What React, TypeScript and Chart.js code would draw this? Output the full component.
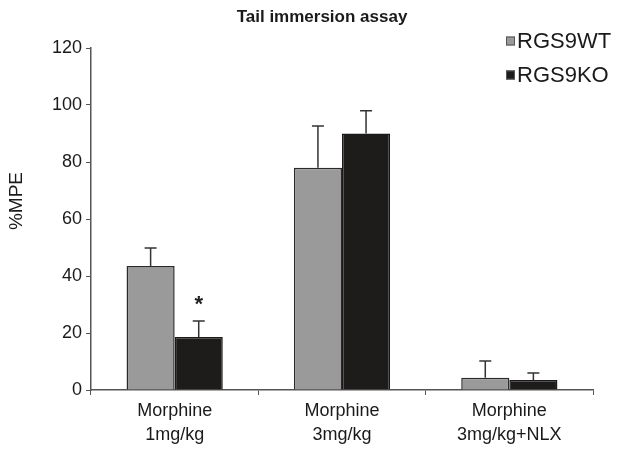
import React, { useEffect, useRef } from "react";
import { Chart, registerables } from "chart.js";

Chart.register(...registerables);

const categories = [["Morphine", "1mg/kg"], ["Morphine", "3mg/kg"], ["Morphine", "3mg/kg+NLX"]];
const wtValues = [43.5, 78, 4.3];
const wtErrors = [6.3, 14.6, 5.9];
const koValues = [18.6, 90, 3.5];
const koErrors = [5.6, 8, 2.5];
const seriesNames = ["RGS9WT", "RGS9KO"];
// significance marks per series (rows) and category (columns)
const significance = [["", "", ""], ["*", "", ""]];
const yTicks = [0, 20, 40, 60, 80, 100, 120];

const FONT = "'Liberation Sans', Arial, sans-serif";
const WT_COLOR = "#9a9a9a";
const KO_COLOR = "#1e1b1b";

export default function App() {
  const ref = useRef<HTMLCanvasElement>(null);
  useEffect(() => {
    document.body.style.margin = "0";
    const errs = [wtErrors, koErrors];
    const extras = {
      id: "extras",
      afterDatasetsDraw(chart: any) {
        const ctx = chart.ctx;
        const y = chart.scales.y;
        ctx.save();
        chart.data.datasets.forEach((ds: any, di: number) => {
          const meta = chart.getDatasetMeta(di);
          meta.data.forEach((bar: any, i: number) => {
            const v = ds.data[i];
            const top = y.getPixelForValue(v + errs[di][i]);
            const base = y.getPixelForValue(v);
            ctx.strokeStyle = "#333";
            ctx.lineWidth = 1.5;
            ctx.beginPath();
            ctx.moveTo(bar.x, base);
            ctx.lineTo(bar.x, top);
            ctx.moveTo(bar.x - 6, top);
            ctx.lineTo(bar.x + 6, top);
            ctx.stroke();
            const s = significance[di][i];
            if (s) {
              ctx.fillStyle = "#222";
              ctx.font = `bold 22px ${FONT}`;
              ctx.textAlign = "center";
              ctx.textBaseline = "middle";
              ctx.fillText(s, bar.x, top - 16);
            }
          });
        });
        // title
        ctx.fillStyle = "#1a1a1a";
        ctx.font = `bold 17px ${FONT}`;
        ctx.textAlign = "center";
        ctx.textBaseline = "middle";
        ctx.fillText("Tail immersion assay", 322, 17);
        // y axis title
        ctx.save();
        ctx.translate(17, 201);
        ctx.rotate(-Math.PI / 2);
        ctx.font = `19px ${FONT}`;
        ctx.fillText("%MPE", 0, 0);
        ctx.restore();
        // legend
        const colors = [WT_COLOR, KO_COLOR];
        const rowsY = [41, 75];
        seriesNames.forEach((name, k) => {
          ctx.fillStyle = colors[k];
          ctx.fillRect(506, rowsY[k] - 4.5, 9, 9);
          ctx.strokeStyle = "#555";
          ctx.lineWidth = 1;
          ctx.strokeRect(506.5, rowsY[k] - 4, 8, 8);
          ctx.fillStyle = "#1a1a1a";
          ctx.font = `22px ${FONT}`;
          ctx.textAlign = "left";
          ctx.textBaseline = "middle";
          ctx.fillText(name, 517, rowsY[k] + 1);
        });
        ctx.restore();
      },
    };
    const chart = new Chart(ref.current!, {
      type: "bar",
      data: {
        labels: categories,
        datasets: [
          { label: seriesNames[0], data: wtValues, backgroundColor: WT_COLOR, borderColor: "#2a2a2a", borderWidth: 1.5, categoryPercentage: 0.575, barPercentage: 1 },
          { label: seriesNames[1], data: koValues, backgroundColor: KO_COLOR, borderColor: "#1a1a1a", borderWidth: 1.5, categoryPercentage: 0.575, barPercentage: 1 },
        ],
      },
      options: {
        responsive: false,
        animation: false,
        layout: { padding: { left: 0, right: 36, top: 48, bottom: 0 } },
        plugins: { legend: { display: false }, tooltip: { enabled: false }, title: { display: false } },
        scales: {
          x: {
            grid: { display: true, drawOnChartArea: false, offset: true, tickLength: 5, color: "#555" },
            border: { display: true, color: "#555", width: 1.5 },
            ticks: { color: "#1a1a1a", font: { family: FONT, size: 18, lineHeight: 1.33 }, padding: 4, maxRotation: 0 },
            afterFit: (s: any) => { s.height = 67; },
          },
          y: {
            min: 0,
            max: 120,
            afterBuildTicks: (s: any) => { s.ticks = yTicks.map((v) => ({ value: v })); },
            grid: { display: true, drawOnChartArea: false, tickLength: 5, color: "#555" },
            border: { display: true, color: "#555", width: 1.5 },
            ticks: { color: "#1a1a1a", font: { family: FONT, size: 18 }, padding: 4 },
            afterFit: (s: any) => { s.width = 91; },
          },
        },
      },
      plugins: [extras],
    });
    return () => chart.destroy();
  }, []);
  return (
    <div style={{ width: 629, height: 457 }}>
      <canvas ref={ref} width={629} height={457} style={{ display: "block" }} />
    </div>
  );
}
